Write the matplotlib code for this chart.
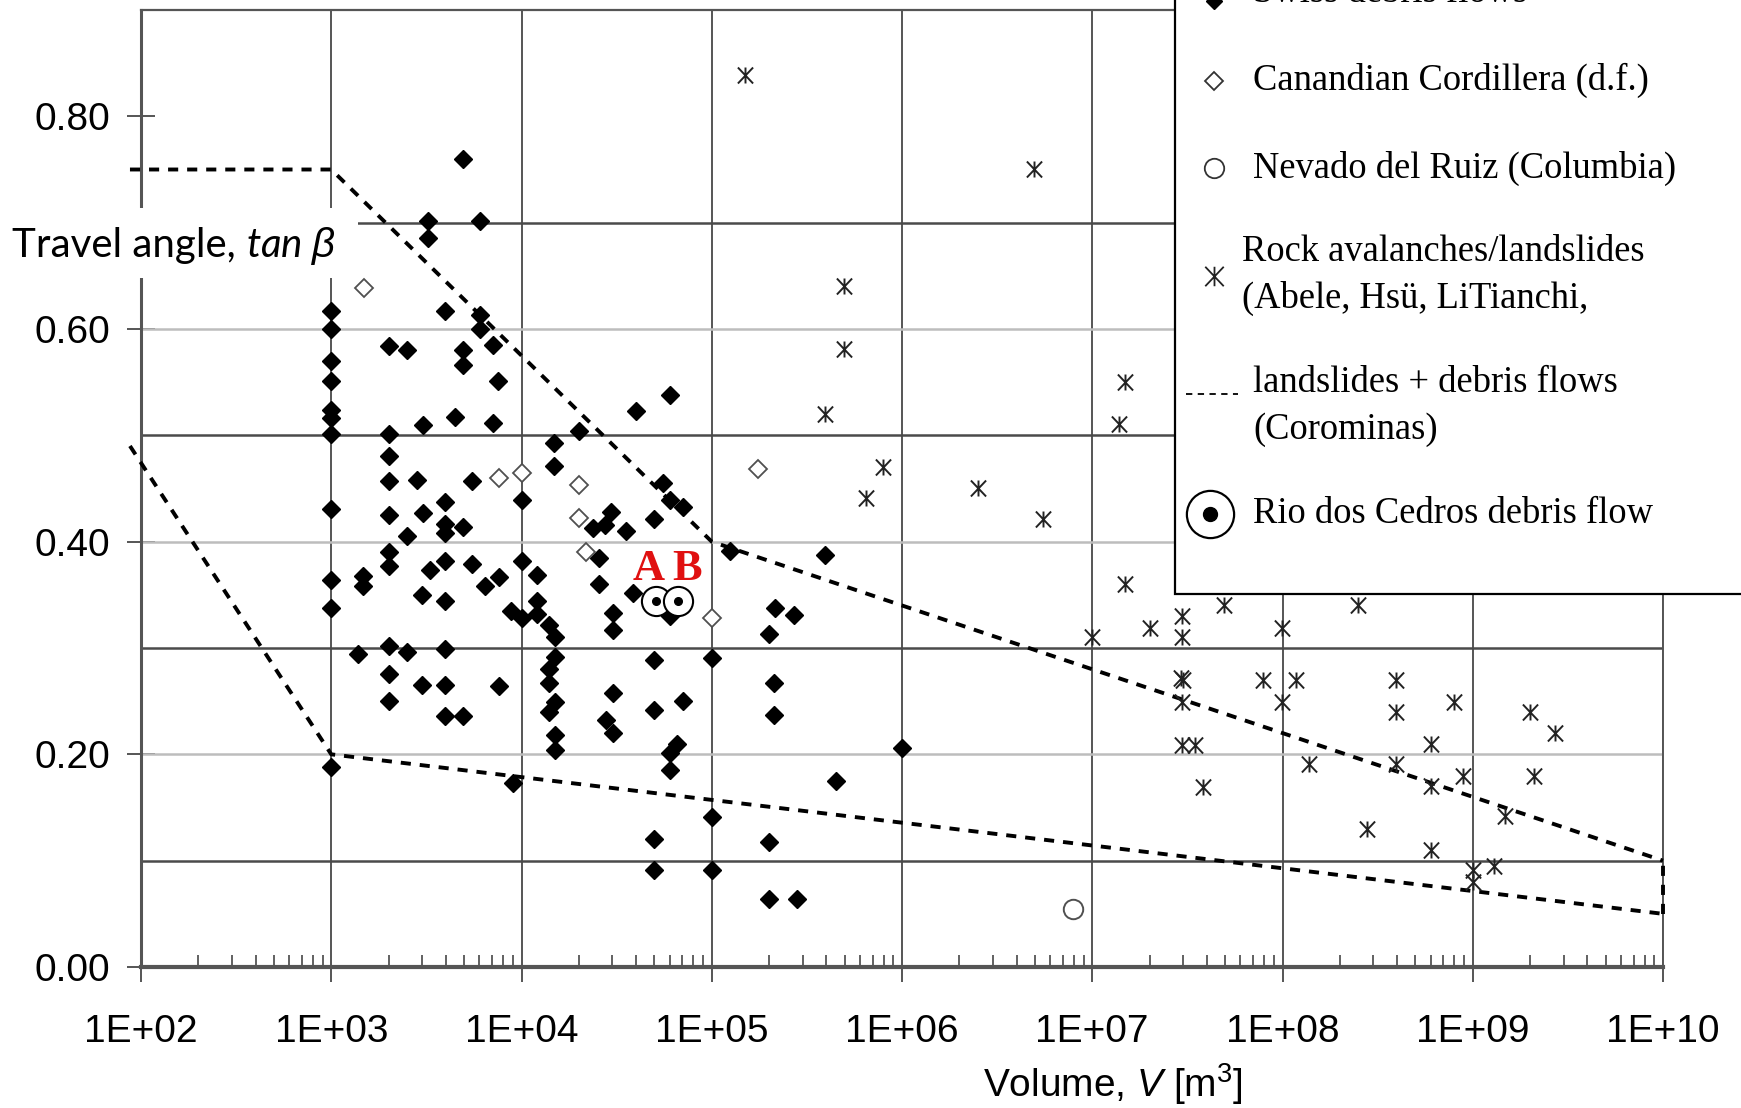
import numpy as np
import matplotlib
matplotlib.use("Agg")
import matplotlib.pyplot as plt
from matplotlib.lines import Line2D
from matplotlib.patches import Rectangle
from matplotlib.path import Path
from matplotlib.text import Annotation
from matplotlib.ticker import NullFormatter, NullLocator, LogLocator

plt.rcParams['font.family'] = ['Liberation Sans', 'DejaVu Sans']
plt.rcParams['mathtext.fontset'] = 'custom'
plt.rcParams['mathtext.rm'] = 'Liberation Sans'
plt.rcParams['mathtext.it'] = 'Liberation Sans:italic'

# ---------------- data ----------------
swiss_V = [1e3, 1e3, 1e3, 1e3, 1e3, 1e3, 1e3, 1e3, 1e3, 1e3, 1e3,
           4.94e3, 3.24e3, 6.04e3, 3.24e3, 3.95e3, 6.04e3, 6.04e3, 7.10e3, 2.02e3, 2.51e3,
           4.94e3, 4.94e3, 7.55e3, 3.02e3, 4.47e3, 7.05e3, 2.02e3, 2.02e3, 2.02e3, 2.81e3,
           5.51e3, 1.0e4, 1.49e4, 1.49e4, 2.01e4, 3.99e4, 6.03e4, 5.51e4, 6.03e4, 7.08e4,
           2.02e3, 3.02e3, 3.95e3, 3.95e3, 3.95e3, 4.94e3, 2.51e3, 2.38e4, 2.97e4, 2.74e4,
           3.54e4, 4.98e4, 2.01e3, 2.01e3, 1.47e3, 1.47e3, 3.30e3, 3.94e3, 5.50e3, 3.01e3,
           3.94e3, 6.41e3, 7.60e3, 1.0e4, 1.20e4, 8.85e3, 1.0e4, 1.20e4, 1.20e4, 1.40e4,
           1.50e4, 1.50e4, 1.40e4, 1.40e4, 1.50e4, 1.40e4, 1.50e4, 1.50e4, 1.38e3, 2.01e3,
           2.50e3, 3.94e3, 2.01e3, 3.01e3, 3.94e3, 7.60e3, 2.01e3, 3.94e3, 4.93e3, 9.04e3,
           2.54e4, 2.54e4, 3.84e4, 3.01e4, 3.01e4, 6.04e4, 4.99e4, 1.0e5, 3.01e4, 4.99e4,
           7.10e4, 2.79e4, 3.01e4, 6.55e4, 6.04e4, 6.04e4, 1.0e5, 4.99e4, 4.99e4, 1.0e5,
           1.25e5, 3.95e5, 2.16e5, 2.71e5, 2.00e5, 2.12e5, 2.12e5, 1.0e6, 4.48e5, 2.00e5,
           2.00e5, 2.79e5]
swiss_tan = [0.617, 0.600, 0.570, 0.551, 0.524, 0.516, 0.501, 0.431, 0.364, 0.338, 0.188,
             0.760, 0.702, 0.702, 0.686, 0.617, 0.613, 0.600, 0.585, 0.584, 0.580,
             0.580, 0.566, 0.551, 0.510, 0.517, 0.512, 0.501, 0.481, 0.457, 0.458,
             0.457, 0.439, 0.493, 0.471, 0.504, 0.523, 0.538, 0.455, 0.439, 0.433,
             0.425, 0.427, 0.437, 0.417, 0.408, 0.414, 0.405, 0.413, 0.428, 0.416,
             0.410, 0.421, 0.390, 0.377, 0.368, 0.358, 0.373, 0.382, 0.379, 0.350,
             0.344, 0.358, 0.367, 0.382, 0.369, 0.335, 0.328, 0.344, 0.332, 0.322,
             0.310, 0.292, 0.280, 0.267, 0.249, 0.240, 0.218, 0.204, 0.294, 0.302,
             0.296, 0.299, 0.276, 0.265, 0.265, 0.264, 0.250, 0.236, 0.236, 0.173,
             0.385, 0.360, 0.352, 0.333, 0.317, 0.330, 0.289, 0.291, 0.258, 0.242,
             0.250, 0.232, 0.220, 0.210, 0.201, 0.185, 0.141, 0.120, 0.091, 0.091,
             0.391, 0.387, 0.338, 0.331, 0.313, 0.267, 0.237, 0.206, 0.175, 0.118,
             0.064, 0.064]

canada_V = [1.49e3, 7.60e3, 1.0e4, 2.01e4, 2.01e4, 2.18e4, 1.75e5, 1.0e5]
canada_tan = [0.639, 0.460, 0.465, 0.453, 0.422, 0.390, 0.468, 0.328]

nevado_V = [7.96e6]
nevado_tan = [0.055]

rock_V = [1.50e5, 4.95e6, 4.95e5, 4.95e5, 3.94e5, 7.94e5, 6.46e5, 2.51e6, 5.50e6, 1.49e7,
          1.38e7, 1.49e7, 1.0e7, 2.01e7, 2.96e7, 2.96e7, 4.92e7, 9.93e7, 2.50e8, 2.92e7,
          3.01e7, 2.96e7, 2.96e7, 3.47e7, 3.80e7, 7.89e7, 1.18e8, 9.95e7, 1.38e8, 2.79e8,
          3.94e8, 3.94e8, 3.94e8, 6.00e8, 6.00e8, 7.93e8, 8.91e8, 6.00e8, 1.0e9, 1.0e9,
          1.29e9, 1.48e9, 2.0e9, 2.11e9, 2.70e9]
rock_tan = [0.839, 0.750, 0.640, 0.581, 0.520, 0.470, 0.441, 0.450, 0.421, 0.550,
            0.511, 0.360, 0.310, 0.319, 0.330, 0.310, 0.340, 0.319, 0.340, 0.272,
            0.270, 0.249, 0.209, 0.209, 0.169, 0.270, 0.270, 0.249, 0.191, 0.130,
            0.270, 0.240, 0.191, 0.210, 0.170, 0.249, 0.180, 0.110, 0.091, 0.080,
            0.095, 0.142, 0.240, 0.180, 0.220]

rio_V = [5.09e4, 6.67e4]
rio_tan = [0.344, 0.344]
rio_labels = ['A', 'B']

# Corominas envelopes
upper_V = [8.75e1, 1e3, 1e5, 1e10]
upper_tan = [0.75, 0.75, 0.40, 0.10]
lower_V = [8.75e1, 1e3, 1e10]
lower_tan = [0.49, 0.20, 0.05]
right_V = [1e10, 1e10]
right_tan = [0.05, 0.10]

xtick_vals = [1e2, 1e3, 1e4, 1e5, 1e6, 1e7, 1e8, 1e9, 1e10]
xtick_labels = ['1E+02', '1E+03', '1E+04', '1E+05', '1E+06', '1E+07', '1E+08', '1E+09', '1E+10']
ytick_vals = [0.0, 0.2, 0.4, 0.6, 0.8]
ytick_labels = ['0.00', '0.20', '0.40', '0.60', '0.80']
grid_dark = [0.1, 0.3, 0.5, 0.7]
grid_light = [0.2, 0.4, 0.6]

legend_labels = ['Swiss debris flows', 'Canandian Cordillera (d.f.)', 'Nevado del Ruiz (Columbia)',
                 'Rock avalanches/landslides\n(Abele, Hsü, LiTianchi,',
                 'landslides + debris flows\n(Corominas)', 'Rio dos Cedros debris flow']

# asterisk-like marker: X with a vertical bar
star_path = Path([(0, -1), (0, 1), (-0.95, -1), (0.95, 1), (-0.95, 1), (0.95, -1)],
                 [Path.MOVETO, Path.LINETO, Path.MOVETO, Path.LINETO, Path.MOVETO, Path.LINETO])

# ---------------- figure ----------------
W, H = 1741, 1108
fig = plt.figure(figsize=(W / 100, H / 100), dpi=100)
def FX(px): return px / W
def FY(py): return 1 - py / H

ax = fig.add_axes([FX(141), FY(967), FX(1663) - FX(141), FY(10) - FY(967)])
ax.set_xscale('log')
ax.set_xlim(1e2, 1e10)
ax.set_ylim(0, 0.9)

gc = '#555555'
for g in grid_dark:
    ax.axhline(g, color='#4a4a4a', lw=1.8, zorder=1)
for g in grid_light:
    ax.axhline(g, color='#bdbdbd', lw=1.8, zorder=1)
ax.grid(True, which='major', axis='x', color=gc, lw=1.4, zorder=1)
ax.set_axisbelow(True)

for s, lw in [('left', 2.2), ('bottom', 3.0), ('top', 1.6), ('right', 1.4)]:
    ax.spines[s].set_color(gc)
    ax.spines[s].set_linewidth(lw)

ax.set_xticks(xtick_vals, xtick_labels)
ax.xaxis.set_minor_locator(LogLocator(base=10, subs=np.arange(2, 10), numticks=100))
ax.xaxis.set_minor_formatter(NullFormatter())
ax.tick_params(axis='x', which='major', direction='out', length=11, width=1.4, color=gc,
               pad=23, labelsize=28)
ax.tick_params(axis='x', which='minor', direction='in', length=9, width=1.3, color=gc)
ax.set_yticks(ytick_vals, ytick_labels)
ax.yaxis.set_minor_locator(NullLocator())
ax.tick_params(axis='y', direction='inout', length=20, width=1.4, color=gc, pad=12, labelsize=28)

# Corominas lines
dash_kw = dict(color='black', lw=2.8, dashes=(2.6, 2.3), zorder=3, clip_on=False)
ax.plot(upper_V, upper_tan, **dash_kw)
ax.plot(lower_V, lower_tan, **dash_kw)
ax.plot(right_V, right_tan, **dash_kw)

# data
ax.plot(swiss_V, swiss_tan, 'D', ms=9, color='black', mec='black', ls='none', zorder=4)
ax.plot(canada_V, canada_tan, 'D', ms=9.5, mfc='white', mec='#505050', mew=1.3, ls='none', zorder=4)
ax.plot(nevado_V, nevado_tan, 'o', ms=14, mfc='white', mec='#505050', mew=1.4, ls='none', zorder=4)
ax.plot(rock_V, rock_tan, marker=star_path, ms=11.5, color='#222222', mew=1.4, ls='none', zorder=4)
ax.plot(rio_V, rio_tan, 'o', ms=21, mfc='white', mec='black', mew=1.5, ls='none', zorder=5)
ax.plot(rio_V, rio_tan, 'o', ms=5.5, color='black', ls='none', zorder=6)
for v, t, lab, dx in zip(rio_V, rio_tan, rio_labels, [-5, 6]):
    ax.annotate(lab, (v, t), xytext=(dx, 9), textcoords='offset points', ha='center', va='bottom',
                color='#e01010', fontsize=32, fontweight='bold', family='Liberation Serif', zorder=7)

# x label
ax.set_xlabel('Volume, $\\mathit{V}$ [m$^3$]', fontsize=28, labelpad=6)
ax.xaxis.set_label_coords((1113 - 141) / 1522, -0.098)

# y label box
fig.add_artist(Rectangle((0, FY(278)), FX(358), FY(208) - FY(278), transform=fig.transFigure,
                         facecolor='white', edgecolor='none', zorder=10))
t1 = fig.text(FX(12), FY(246), 'Travel angle, ', fontsize=29, family='Lato', va='center',
              ha='left', zorder=11)
t2 = Annotation('tan $\\beta$', xy=(1, 0.5), xycoords=t1, va='center', ha='left', fontsize=29,
                family='Lato', style='italic', annotation_clip=False, zorder=11)
fig.add_artist(t2)

# legend (manual box)
fig.add_artist(Rectangle((FX(1175), FY(594)), 1.0, 1.0, transform=fig.transFigure,
                         facecolor='white', edgecolor='black', lw=1.6, zorder=10))
mx = 1214
rows_y = [1, 81, 168, 276, 394, 514]
lt = fig.transFigure
fig.add_artist(Line2D([FX(mx)], [FY(rows_y[0])], marker='D', ms=8, color='black', transform=lt, zorder=11))
fig.add_artist(Line2D([FX(mx)], [FY(rows_y[1])], marker='D', ms=9, mfc='white', mec='#333333', mew=1.3,
                      transform=lt, zorder=11))
fig.add_artist(Line2D([FX(mx)], [FY(rows_y[2])], marker='o', ms=14, mfc='white', mec='#333333', mew=1.3,
                      transform=lt, zorder=11))
fig.add_artist(Line2D([FX(mx)], [FY(rows_y[3])], marker=star_path, ms=14, color='#222222', mew=1.3,
                      transform=lt, zorder=11))
fig.add_artist(Line2D([FX(1186), FX(1238)], [FY(rows_y[4]), FY(rows_y[4])], color='black', lw=1.3,
                      dashes=(3.5, 3.0), transform=lt, zorder=11))
fig.add_artist(Line2D([FX(1210)], [FY(rows_y[5])], marker='o', ms=34, mfc='white', mec='black', mew=1.6,
                      transform=lt, zorder=11))
fig.add_artist(Line2D([FX(1210)], [FY(rows_y[5])], marker='o', ms=10, color='black', transform=lt, zorder=12))

text_x = [1253, 1253, 1253, 1242, 1253, 1253]
text_y = [-7, 80, 168, 275, 406, 514]
for lab, tx, ty in zip(legend_labels, text_x, text_y):
    fig.text(FX(tx), FY(ty), lab, fontsize=26.3, family='Liberation Serif', va='center', ha='left',
             linespacing=1.45, zorder=12)

fig.savefig('out.png', dpi=100)
